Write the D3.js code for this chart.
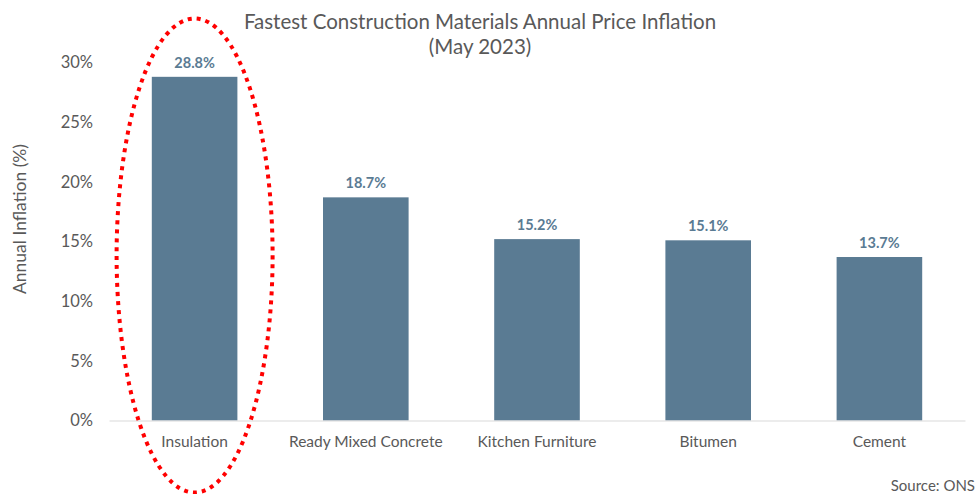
<!DOCTYPE html>
<html><head><meta charset="utf-8">
<script src="https://cdn.jsdelivr.net/npm/d3@7"></script>
<style>body{margin:0;background:#fff}svg{display:block}text{font-family:Lato,"Open Sans",sans-serif}</style>
</head><body><svg id="c" width="977" height="494"></svg>
<script>
const categories = ["Insulation","Ready Mixed Concrete","Kitchen Furniture","Bitumen","Cement"];
const values = [28.8,18.7,15.2,15.1,13.7];
const yTicks = [0,5,10,15,20,25,30];
const titleLines = ["Fastest Construction Materials Annual Price Inflation","(May 2023)"];
const yTitle = "Annual Inflation (%)";
const source = "Source: ONS";
const highlight = "Insulation";

const svg = d3.select("#c");
const x = d3.scaleBand().domain(categories).range([109,965]).paddingInner(0.5).paddingOuter(0.25);
const y = d3.scaleLinear().domain([0,30]).range([420.5,62.5]);
const grey = "#595959", bar = "#5a7b93";

// title
svg.append("g").selectAll("text").data(titleLines).join("text")
  .attr("x",480).attr("y",(d,i)=>29+i*25).attr("text-anchor","middle")
  .attr("font-size",20.5).attr("fill",grey).text(d=>d);

// y ticks
svg.append("g").selectAll("text").data(yTicks).join("text")
  .attr("x",93).attr("y",d=>y(d)).attr("dy","0.35em").attr("text-anchor","end")
  .attr("font-size",16.5).attr("fill",grey).text(d=>d+"%");

svg.append("text").attr("transform","translate(26,219) rotate(-90)")
  .attr("text-anchor","middle").attr("font-size",17.5).attr("fill",grey).text(yTitle);

// bars
svg.append("g").selectAll("rect").data(values).join("rect")
  .attr("x",(d,i)=>x(categories[i])).attr("width",x.bandwidth())
  .attr("y",d=>y(d)).attr("height",d=>y(0)-y(d)).attr("fill",bar);

// axis
const xAxis = d3.axisBottom(x).tickSize(0).tickPadding(15);
const gx = svg.append("g").attr("transform",`translate(0,${y(0)})`).call(xAxis);
gx.select(".domain").attr("stroke","#d9d9d9").attr("stroke-width",1);
gx.selectAll("text").attr("font-size",15.5).attr("fill",grey).attr("font-family","Lato,sans-serif");

// value labels
svg.append("g").selectAll("text").data(values).join("text")
  .attr("x",(d,i)=>x(categories[i])+x.bandwidth()/2).attr("y",d=>y(d)-9)
  .attr("text-anchor","middle").attr("font-size",14.5).attr("font-weight","bold")
  .attr("fill",bar).text(d=>d.toFixed(1)+"%");

// highlight ellipse
svg.append("ellipse").attr("cx",x(highlight)+x.bandwidth()/2).attr("cy",255.5)
  .attr("rx",78).attr("ry",237).attr("fill","none").attr("stroke","#ff0000")
  .attr("stroke-width",4).attr("stroke-dasharray","4 5");

svg.append("text").attr("x",975).attr("y",491).attr("text-anchor","end")
  .attr("font-size",15).attr("fill",grey).text(source);
</script></body></html>
